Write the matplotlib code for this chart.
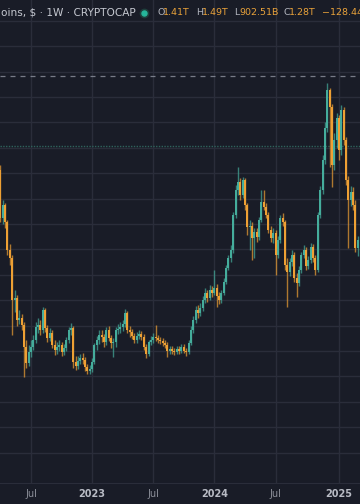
import numpy as np
import matplotlib
matplotlib.use("Agg")
import matplotlib.pyplot as plt
from matplotlib.lines import Line2D

# weekly candles, value in trillions $, bar index 0 = week of 2022-07-04
first_bar = -13
first_open = 1.213
closes = [
    1.024, 1.075, 1.008, 0.898, 0.866, 0.701, 0.709, 0.622, 0.630, 0.602,
    0.516, 0.453, 0.496, 0.516, 0.543, 0.594, 0.602, 0.583, 0.661, 0.591,
    0.551, 0.571, 0.524, 0.504, 0.516, 0.524, 0.496, 0.512, 0.543, 0.583,
    0.591, 0.457, 0.441, 0.461, 0.472, 0.465, 0.437, 0.421, 0.429, 0.457,
    0.524, 0.543, 0.563, 0.555, 0.535, 0.583, 0.551, 0.531, 0.535, 0.583,
    0.587, 0.594, 0.606, 0.650, 0.583, 0.575, 0.559, 0.543, 0.559, 0.567,
    0.555, 0.516, 0.488, 0.535, 0.543, 0.555, 0.551, 0.543, 0.539, 0.531,
    0.524, 0.500, 0.508, 0.500, 0.496, 0.508, 0.500, 0.516, 0.500, 0.496,
    0.531, 0.583, 0.622, 0.661, 0.650, 0.669, 0.701, 0.728, 0.709, 0.740,
    0.728, 0.748, 0.717, 0.701, 0.728, 0.772, 0.827, 0.866, 0.898, 1.035,
    1.134, 1.165, 1.114, 1.173, 1.075, 0.988, 0.992, 0.945, 0.969, 0.949,
    1.016, 1.087, 1.067, 1.035, 0.976, 0.945, 0.965, 0.878, 0.937, 1.024,
    1.008, 0.839, 0.811, 0.850, 0.878, 0.787, 0.768, 0.819, 0.878, 0.898,
    0.835, 0.858, 0.909, 0.866, 0.819, 1.035, 1.134, 1.252, 1.378, 1.528,
    1.461, 1.232, 1.331, 1.417, 1.291, 1.449, 1.331, 1.173, 1.094, 1.126,
    1.075, 0.906, 0.937,
]
highs = [
    1.232, 1.094, 1.083, 1.016, 0.921, 0.878, 0.740, 0.720, 0.661, 0.646,
    0.614, 0.543, 0.524, 0.543, 0.563, 0.614, 0.630, 0.622, 0.673, 0.669,
    0.602, 0.591, 0.583, 0.543, 0.535, 0.543, 0.535, 0.528, 0.555, 0.594,
    0.610, 0.598, 0.480, 0.480, 0.488, 0.492, 0.476, 0.449, 0.445, 0.472,
    0.531, 0.559, 0.583, 0.583, 0.567, 0.594, 0.598, 0.563, 0.551, 0.594,
    0.606, 0.614, 0.622, 0.665, 0.657, 0.598, 0.587, 0.571, 0.575, 0.583,
    0.579, 0.567, 0.528, 0.543, 0.559, 0.571, 0.602, 0.563, 0.555, 0.551,
    0.543, 0.535, 0.520, 0.520, 0.512, 0.520, 0.520, 0.528, 0.528, 0.512,
    0.543, 0.598, 0.638, 0.677, 0.681, 0.689, 0.717, 0.748, 0.740, 0.760,
    0.756, 0.819, 0.764, 0.732, 0.740, 0.787, 0.839, 0.878, 0.917, 1.047,
    1.154, 1.224, 1.181, 1.185, 1.181, 1.083, 1.016, 1.008, 0.984, 0.984,
    1.028, 1.134, 1.134, 1.083, 1.047, 0.992, 0.984, 0.976, 0.953, 1.035,
    1.043, 1.016, 0.866, 0.866, 0.898, 0.890, 0.807, 0.835, 0.890, 0.917,
    0.909, 0.874, 0.925, 0.921, 0.878, 1.047, 1.150, 1.272, 1.402, 1.555,
    1.535, 1.472, 1.358, 1.437, 1.429, 1.469, 1.461, 1.343, 1.189, 1.150,
    1.146, 1.094, 0.953,
]
lows = [
    1.008, 1.000, 0.984, 0.878, 0.839, 0.563, 0.654, 0.598, 0.606, 0.583,
    0.398, 0.433, 0.441, 0.476, 0.504, 0.531, 0.571, 0.563, 0.571, 0.575,
    0.535, 0.539, 0.512, 0.484, 0.488, 0.500, 0.480, 0.484, 0.500, 0.531,
    0.563, 0.433, 0.425, 0.429, 0.449, 0.449, 0.421, 0.409, 0.409, 0.417,
    0.449, 0.504, 0.528, 0.535, 0.516, 0.524, 0.539, 0.512, 0.476, 0.516,
    0.567, 0.571, 0.579, 0.594, 0.571, 0.555, 0.547, 0.531, 0.531, 0.547,
    0.543, 0.504, 0.472, 0.480, 0.524, 0.531, 0.539, 0.531, 0.528, 0.520,
    0.512, 0.476, 0.488, 0.488, 0.484, 0.488, 0.488, 0.492, 0.492, 0.480,
    0.488, 0.524, 0.571, 0.610, 0.630, 0.638, 0.657, 0.689, 0.693, 0.701,
    0.713, 0.720, 0.673, 0.685, 0.689, 0.720, 0.764, 0.819, 0.850, 0.886,
    1.024, 1.114, 1.094, 1.102, 1.055, 0.957, 0.898, 0.858, 0.866, 0.929,
    0.937, 1.008, 1.055, 1.024, 0.965, 0.929, 0.925, 0.799, 0.866, 0.925,
    0.992, 0.819, 0.673, 0.795, 0.835, 0.772, 0.713, 0.756, 0.807, 0.866,
    0.819, 0.823, 0.846, 0.850, 0.799, 0.811, 1.024, 1.118, 1.236, 1.362,
    1.224, 1.146, 1.213, 1.299, 1.252, 1.272, 1.311, 1.154, 0.906, 1.071,
    1.055, 0.890, 0.874,
]

tick_bars = [0, 26, 52, 78, 104, 131]
tick_text = ['Jul', '2023', 'Jul', '2024', 'Jul', '2025']

marker_line = 1.583   # dashed line
last_price = 1.307    # dotted price line

header_left = 'oins, $ · 1W · CRYPTOCAP'
# letter, value, x of letter, x of value (pixels)
ohlc = [('O', '1.41T', 157, 163), ('H', '1.49T', 196, 202),
        ('L', '902.51B', 234, 239), ('C', '1.28T', 283, 289)]
change = '−128.44'

BG = '#191c27'
GRID = '#2a2d3a'
UP = '#45ad9c'
DOWN = '#eea034'

W, H = 360, 504
fig = plt.figure(figsize=(W / 100, H / 100), dpi=100, facecolor=BG)
ax = fig.add_axes([0, 21 / H, 1, 483 / H], facecolor=BG)

c = np.array(closes)
o = np.concatenate([[first_open], c[:-1]])
hi = np.array(highs)
lo = np.array(lows)
x = np.arange(first_bar, first_bar + len(c))
up = c >= o
cols = np.where(up, UP, DOWN)

ax.vlines(x, lo, hi, colors=cols, linewidth=1.0, alpha=0.7, zorder=3)
body = np.maximum(np.abs(c - o), 0.005)
ax.bar(x, body, bottom=np.minimum(o, c), width=0.85, color=cols,
       linewidth=0, zorder=4)

ax.axhline(marker_line, color='#8f94a0', lw=0.9, dashes=(4, 4), alpha=0.8, zorder=2)
ax.axhline(last_price, color='#2f635c', lw=1.0, ls=(0, (1, 1)), zorder=2)

ax.set_xlim((0 - 31) / 2.351, (W - 31) / 2.351)
ax.set_ylim(-0.0197, 1.882)

ax.set_yticks(np.arange(1, 19) / 10)
ax.set_xticks(tick_bars, tick_text)
ax.grid(True, color=GRID, lw=1.0, zorder=0)
ax.tick_params(axis='y', left=False, labelleft=False)
ax.tick_params(axis='x', length=0, pad=4, labelsize=7, labelcolor='#8b8e98')
for lbl in ax.get_xticklabels():
    if lbl.get_text() != 'Jul':
        lbl.set_fontweight('bold')
        lbl.set_color('#b8bbc4')
for s in ['top', 'left', 'right']:
    ax.spines[s].set_visible(False)
ax.spines['bottom'].set_color(GRID)

# header
ty = 1 - 12.5 / H
fig.text(1 / W, ty, header_left, color='#c5c8d0', fontsize=7.6, va='center', ha='left')
fig.add_artist(Line2D([144 / W], [ty], marker='o', markersize=6, color='#1e3f3c',
                      transform=fig.transFigure))
fig.add_artist(Line2D([144 / W], [ty], marker='o', markersize=3.6, color='#26b59b',
                      transform=fig.transFigure))
for k, v, px, vx in ohlc:
    fig.text(px / W, ty, k, color='#b2b5be', fontsize=6.8, va='center', ha='left')
    fig.text(vx / W, ty, v, color='#e9a23a', fontsize=6.8, va='center', ha='left')
fig.text(322 / W, ty, change, color='#e9a23a', fontsize=6.8, va='center', ha='left')

fig.savefig('out.png', dpi=100, facecolor=BG)
